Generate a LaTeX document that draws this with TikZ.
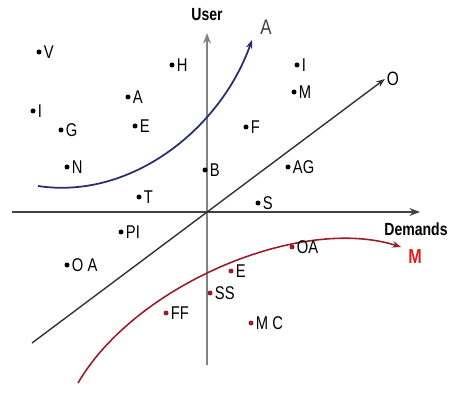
\documentclass[tikz,border=0pt]{standalone}
\usepackage{fontspec}
\setmainfont{Liberation Sans}
\newfontfamily\narrowfont{Liberation Sans}[FakeStretch=0.8]
\usetikzlibrary{arrows.meta, positioning}
\definecolor{axisgray}{RGB}{130,130,130}
\definecolor{curveblue}{RGB}{40,45,110}
\definecolor{curvered}{RGB}{150,30,40}
\definecolor{labelred}{RGB}{225,30,30}

\begin{document}
\begin{tikzpicture}[
  x=0.02cm, y=-0.02cm,
  pt/.style={circle, fill=black, inner sep=0pt, minimum size=0.1cm,
             label distance=0pt},
  rpt/.style={pt, fill=curvered},
  lbl/.style={font=\narrowfont\fontsize{10.5}{12}\selectfont, inner sep=1pt},
  >=Stealth
]
  \useasboundingbox (0,0) rectangle (455,394);
  \tikzset{every label/.style={lbl}}

  % axes
  \coordinate (ybot) at (207,365);
  \coordinate (ytop) at (207,33);
  \coordinate (xleft) at (12,212);
  \coordinate (xright) at (420,212);
  \node[lbl, font=\narrowfont\bfseries\fontsize{10}{12}\selectfont] (user) at (207,15) {User};
  \node[lbl, font=\narrowfont\bfseries\fontsize{10}{12}\selectfont] (dem) at (416,229) {Demands};
  \draw[axisgray, line width=1.2pt, -{Stealth[length=6pt]}] (ybot) -- (ytop);
  \draw[black!75, line width=0.9pt, -{Stealth[length=6pt]}] (xleft) -- (xright);

  % diagonal O
  \coordinate (o0) at (32,343);
  \node[lbl, font=\narrowfont\fontsize{11}{13}\selectfont] (olab) at (393,79) {O};
  \draw[black!80, line width=0.8pt, -{Stealth[length=5pt]}] (o0) -- (olab.west);

  % curve A
  \coordinate (a0) at (38,186);
  \node[lbl, font=\narrowfont\fontsize{12}{14}\selectfont, text=black!75] (alab) at (266,27) {A};
  \draw[curveblue, line width=1pt, -{Stealth[length=5pt]}]
    (a0) .. controls (130,200) and (220,130) .. (252,40);

  % curve M
  \coordinate (m0) at (78,383);
  \node[lbl, font=\narrowfont\bfseries\fontsize{11.5}{13}\selectfont, text=labelred] (mlab) at (415,257) {M};
  \draw[curvered, line width=0.9pt, -{Stealth[length=5pt]}]
    (m0) .. controls (135,285) and (300,215) .. (401,247);

  % upper points
  \node[pt, label=right:V]  (v)  at (39,52)  {};
  \node[pt, label=right:H]  (h)  at (172,65) {};
  \node[pt, label=right:A]  (pa) at (128,97) {};
  \node[pt, label=right:I]  (i1) at (33,111) {};
  \node[pt, label=right:G]  (g)  at (61,130) {};
  \node[pt, label=right:E]  (pe) at (135,126) {};
  \node[pt, label=right:N]  (n)  at (67,167) {};
  \node[pt, label=right:B]  (b)  at (205,170) {};
  \node[pt, label=right:T]  (t)  at (139,197) {};
  \node[pt, label=right:I]  (i2) at (297,65) {};
  \node[pt, label=right:M]  (pm) at (294,92) {};
  \node[pt, label=right:F]  (f)  at (246,127) {};
  \node[pt, label=right:AG] (ag) at (288,167) {};
  \node[pt, label=right:S]  (s)  at (258,203) {};
  \node[pt, label=right:PI] (pi) at (121,232) {};
  \node[pt, label=right:O A] (oa1) at (67,265) {};

  % lower (red) points
  \node[rpt, label=right:OA]  (oa2) at (292,247) {};
  \node[rpt, label=right:E]   (re)  at (231,271) {};
  \node[rpt, label=right:SS]  (ss)  at (210,293) {};
  \node[rpt, label=right:FF]  (ff)  at (166,313) {};
  \node[rpt, label=right:M C] (mc)  at (251,323) {};
\end{tikzpicture}
\end{document}
